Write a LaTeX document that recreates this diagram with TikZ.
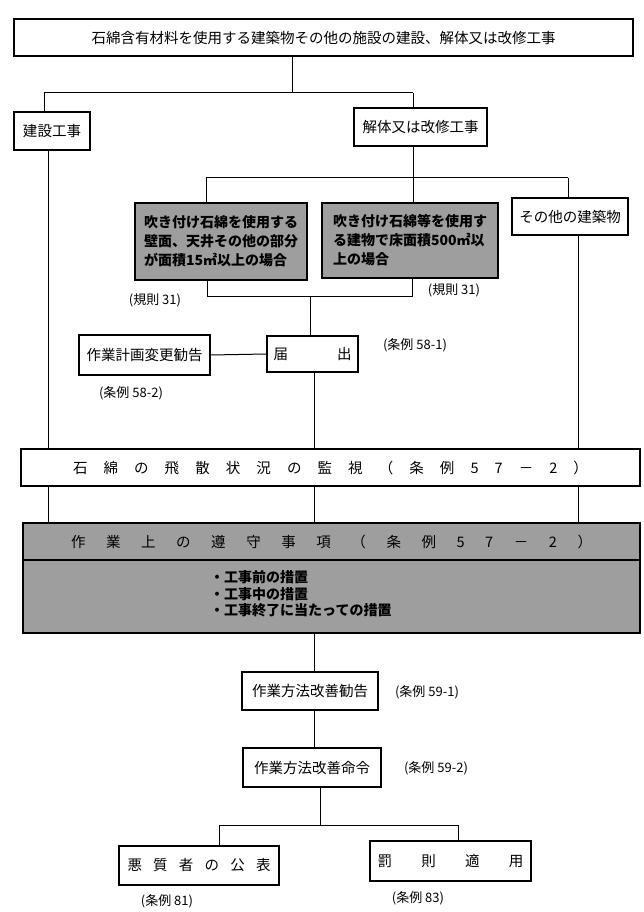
\documentclass[tikz,border=0pt]{standalone}
\usepackage{fontspec}
\setmainfont{Noto Sans CJK JP}

\tikzset{
  box/.style={draw, line width=1.1pt, inner sep=0pt, font=\fontsize{14.5}{17}\selectfont},
  shadebox/.style={box, fill=black!38},
  ref/.style={inner sep=0pt, font=\fontsize{13}{15}\selectfont},
  link/.style={line width=1pt},
}

\begin{document}
\begin{tikzpicture}[x=1pt, y=-1pt]
  \useasboundingbox (0,0) rectangle (643,912);
  % Top level
  \node[box, minimum width=619, minimum height=37] (title) at (323.5,37.5)
    {石綿含有材料を使用する建築物その他の施設の建設、解体又は改修工事};
  \node[box, minimum width=76, minimum height=38] (kensetsu) at (52,131) {建設工事};
  \node[box, minimum width=133, minimum height=38] (kaitai) at (420.5,127) {解体又は改修工事};
  % Demolition branches
  \node[shadebox, minimum width=172, minimum height=77, align=left,
    font=\bfseries\fontsize{14}{19}\selectfont] (wall) at (221,241.5)
    {吹き付け石綿を使用する\\壁面、天井その他の部分\\が面積15㎡以上の場合};
  \node[shadebox, minimum width=176, minimum height=75, align=left,
    font=\bfseries\fontsize{14}{19}\selectfont] (floor) at (410,240.5)
    {吹き付け石綿等を使用す\\る建物で床面積500㎡以\\上の場合};
  \node[box, minimum width=116, minimum height=37] (sonota) at (570,216.5) {その他の建築物};
  \node[ref] (kisoku1) at (155,300) {(規則 31)};
  \node[ref] (kisoku2) at (454,290) {(規則 31)};
  % Notification
  \node[box, minimum width=131, minimum height=40] (henko) at (144.5,355) {作業計画変更勧告};
  \node[box, minimum width=91, minimum height=36] (todoke) at (312.5,354)
    {\makebox[78pt][s]{届\hfill 出}};
  \node[ref] (jorei581) at (415,345) {(条例 58-1)};
  \node[ref] (jorei582) at (131,393) {(条例 58-2)};
  % Monitoring and rules
  \node[box, minimum width=619, minimum height=37] (kanshi) at (330.5,467.5)
    {\makebox[515pt][s]{石\hfill 綿\hfill の\hfill 飛\hfill 散\hfill 状\hfill 況\hfill の\hfill 監\hfill 視\hfill （\hfill 条\hfill 例\hfill 5\hfill 7\hfill －\hfill 2\hfill ）}};
  \node[shadebox, minimum width=617, minimum height=37] (rules) at (331.5,541.5)
    {\makebox[521pt][s]{作\hfill 業\hfill 上\hfill の\hfill 遵\hfill 守\hfill 事\hfill 項\hfill （\hfill 条\hfill 例\hfill 5\hfill 7\hfill －\hfill 2\hfill ）}};
  \node[shadebox, minimum width=617, minimum height=73] (measures) at (331.5,596.5) {};
  \node[inner sep=0pt, anchor=west, align=left, font=\bfseries\fontsize{14}{16.5}\selectfont]
    (steps) at (210,594) {・工事前の措置\\・工事中の措置\\・工事終了に当たっての措置};
  % Orders
  \node[box, minimum width=136, minimum height=38] (kankoku) at (310,691) {作業方法改善勧告};
  \node[ref] (jorei591) at (427,692) {(条例 59-1)};
  \node[box, minimum width=138, minimum height=39] (meirei) at (312,767.5) {作業方法改善命令};
  \node[ref] (jorei592) at (436,768) {(条例 59-2)};
  \node[box, minimum width=160, minimum height=39] (kohyo) at (199,865.5)
    {\makebox[143pt][s]{悪\hfill 質\hfill 者\hfill の\hfill 公\hfill 表}};
  \node[box, minimum width=161, minimum height=40] (bassoku) at (450.5,861)
    {\makebox[146pt][s]{罰\hfill 則\hfill 適\hfill 用}};
  \node[ref] (jorei81) at (167,901) {(条例 81)};
  \node[ref] (jorei83) at (418,898) {(条例 83)};

  % Junctions and columns
  \coordinate (split) at (292,93);
  \coordinate (splitL) at (44,93);
  \coordinate (splitR) at (413,93);
  \coordinate (fork) at (413,178);
  \coordinate (forkL) at (206,178);
  \coordinate (forkR) at (568,178);
  \coordinate (mergeL) at (207,296);
  \coordinate (mergeR) at (412,296);
  \coordinate (merge) at (310,296);
  \coordinate (colL) at (48,0);
  \coordinate (colM) at (314,0);
  \coordinate (colR) at (578,0);
  \coordinate (last) at (320,825);
  \coordinate (lastL) at (219,825);
  \coordinate (lastR) at (458,825);

  % Connectors
  \draw[link] (title.south -| split) -- (split);
  \draw[link] (splitL) -- (splitR);
  \draw[link] (splitL) -- (kensetsu.north -| splitL);
  \draw[link] (splitR) -- (kaitai.north -| splitR);
  \draw[link] (kaitai.south -| fork) -- (fork);
  \draw[link] (forkL) -- (forkR);
  \draw[link] (forkL) -- (wall.north -| forkL);
  \draw[link] (fork) -- (floor.north -| fork);
  \draw[link] (forkR) -- (sonota.north -| forkR);
  \draw[link] (wall.south -| mergeL) -- (mergeL) -- (mergeR) -- (floor.south -| mergeR);
  \draw[link] (merge) -- (todoke.north -| merge);
  \draw[link] (henko.east) -- (todoke.west);
  \draw[link] (kensetsu.south -| colL) -- (kanshi.north -| colL);
  \draw[link] (todoke.south -| colM) -- (kanshi.north -| colM);
  \draw[link] (sonota.south -| colR) -- (kanshi.north -| colR);
  \foreach \c in {colL,colM,colR}
    \draw[link] (kanshi.south -| \c) -- (rules.north -| \c);
  \draw[link] (measures.south -| colM) -- (kankoku.north -| colM);
  \draw[link] (kankoku.south -| colM) -- (meirei.north -| colM);
  \draw[link] (meirei.south -| last) -- (last);
  \draw[link] (kohyo.north -| lastL) -- (lastL) -- (lastR) -- (bassoku.north -| lastR);
\end{tikzpicture}
\end{document}
